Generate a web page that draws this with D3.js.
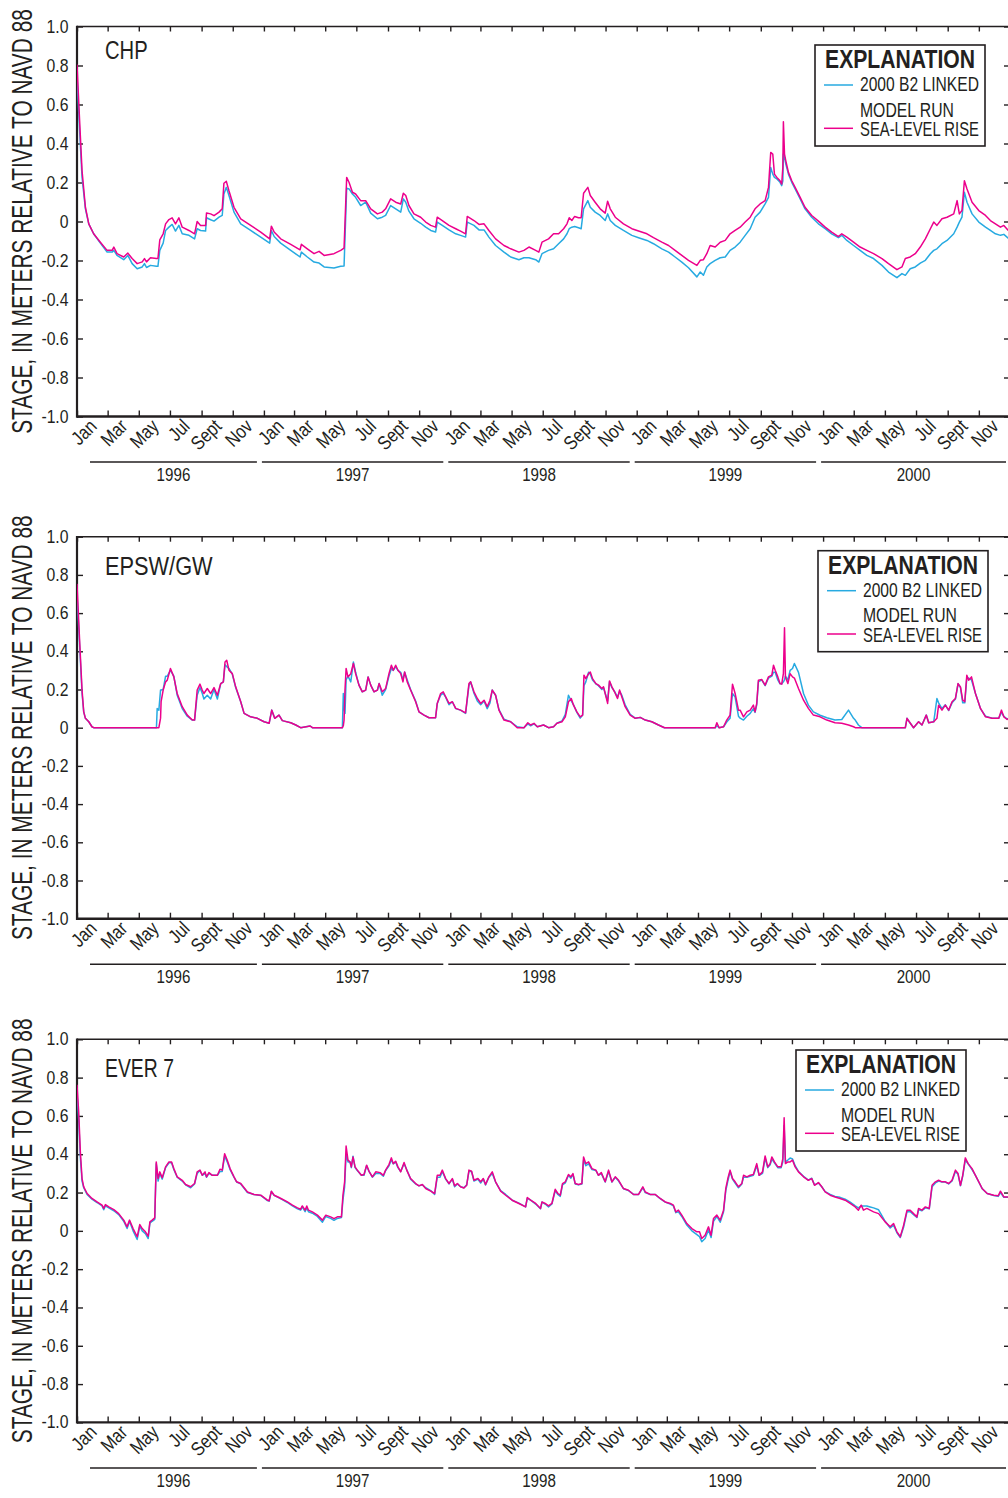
<!DOCTYPE html>
<html>
<head>
<meta charset="utf-8">
<script src="https://cdn.jsdelivr.net/npm/d3@7"></script>
<style>
  body { margin: 0; background: #fff; }
  svg { display: block; font-family: "Liberation Sans", Arial, sans-serif; }
</style>
</head>
<body>
<svg id="chart" width="1008" height="1498"></svg>
<script>
// ---- Stage series, decimal year -> meters relative to NAVD 88 ----

// CHP
const chpT = [1996.000,1996.014,1996.027,1996.045,1996.063,1996.089,1996.125,1996.161,1996.188,1996.197,1996.214,1996.250,1996.272,1996.295,1996.322,1996.349,1996.361,1996.372,1996.393,1996.425,1996.433,1996.443,1996.461,1996.474,1996.492,1996.509,1996.527,1996.545,1996.563,1996.599,1996.629,1996.643,1996.661,1996.688,1996.693,1996.715,1996.733,1996.760,1996.777,1996.786,1996.799,1996.813,1996.840,1996.876,1996.929,1996.983,1997.031,1997.040,1997.055,1997.090,1997.144,1997.194,1997.201,1997.233,1997.269,1997.296,1997.323,1997.376,1997.412,1997.430,1997.444,1997.457,1997.475,1997.492,1997.519,1997.546,1997.573,1997.609,1997.635,1997.653,1997.680,1997.707,1997.734,1997.748,1997.761,1997.778,1997.805,1997.841,1997.868,1997.895,1997.921,1997.930,1997.957,1997.993,1998.029,1998.055,1998.082,1998.091,1998.127,1998.154,1998.181,1998.207,1998.243,1998.288,1998.324,1998.368,1998.395,1998.422,1998.458,1998.475,1998.492,1998.527,1998.554,1998.581,1998.608,1998.626,1998.638,1998.652,1998.667,1998.688,1998.702,1998.715,1998.738,1998.751,1998.777,1998.804,1998.831,1998.844,1998.858,1998.885,1998.929,1998.974,1999.010,1999.055,1999.090,1999.135,1999.171,1999.206,1999.242,1999.278,1999.323,1999.341,1999.358,1999.376,1999.394,1999.421,1999.448,1999.475,1999.501,1999.528,1999.555,1999.582,1999.609,1999.635,1999.662,1999.689,1999.707,1999.719,1999.730,1999.739,1999.752,1999.769,1999.778,1999.784,1999.787,1999.793,1999.800,1999.814,1999.832,1999.850,1999.877,1999.903,1999.939,1999.975,2000.011,2000.046,2000.082,2000.100,2000.127,2000.163,2000.198,2000.234,2000.270,2000.315,2000.350,2000.395,2000.422,2000.440,2000.466,2000.493,2000.520,2000.547,2000.574,2000.592,2000.609,2000.636,2000.663,2000.699,2000.717,2000.729,2000.743,2000.756,2000.770,2000.797,2000.833,2000.869,2000.895,2000.922,2000.949,2000.967,2000.994];
const chpSlr = [0.805,0.516,0.26,0.073,-0.012,-0.063,-0.106,-0.148,-0.148,-0.131,-0.165,-0.182,-0.162,-0.19,-0.216,-0.207,-0.19,-0.207,-0.186,-0.19,-0.19,-0.094,-0.063,-0.012,0.01,0.019,-0.012,0.019,-0.029,-0.046,-0.063,0.0,-0.02,-0.02,0.044,0.039,0.03,0.048,0.065,0.196,0.206,0.158,0.073,0.014,-0.02,-0.054,-0.089,-0.024,-0.054,-0.089,-0.117,-0.145,-0.117,-0.14,-0.165,-0.153,-0.174,-0.165,-0.148,-0.136,0.226,0.2,0.15,0.141,0.107,0.107,0.065,0.039,0.048,0.065,0.116,0.099,0.09,0.145,0.133,0.082,0.039,0.022,-0.003,-0.02,-0.029,0.022,0.005,-0.02,-0.037,-0.049,-0.063,0.026,0.005,-0.015,-0.012,-0.046,-0.089,-0.123,-0.14,-0.157,-0.148,-0.131,-0.148,-0.157,-0.106,-0.089,-0.063,-0.063,-0.037,-0.012,0.019,0.005,0.026,0.019,0.019,0.145,0.175,0.133,0.099,0.065,0.043,0.104,0.065,0.022,-0.012,-0.037,-0.049,-0.063,-0.083,-0.106,-0.123,-0.148,-0.174,-0.199,-0.225,-0.199,-0.196,-0.165,-0.123,-0.131,-0.106,-0.097,-0.063,-0.046,-0.029,-0.003,0.022,0.065,0.09,0.107,0.175,0.354,0.346,0.243,0.226,0.209,0.192,0.277,0.512,0.346,0.311,0.252,0.209,0.175,0.124,0.073,0.031,0.002,-0.029,-0.054,-0.077,-0.063,-0.08,-0.106,-0.131,-0.148,-0.165,-0.19,-0.216,-0.247,-0.233,-0.19,-0.182,-0.165,-0.131,-0.089,-0.037,-0.003,-0.02,0.014,0.022,0.039,0.107,0.039,0.056,0.209,0.167,0.099,0.056,0.031,0.005,-0.012,-0.029,-0.02,-0.049];
const chpBase = [0.745,0.465,0.226,0.065,-0.012,-0.063,-0.111,-0.157,-0.157,-0.148,-0.174,-0.196,-0.174,-0.216,-0.242,-0.233,-0.216,-0.236,-0.225,-0.23,-0.23,-0.148,-0.111,-0.046,-0.029,-0.015,-0.049,-0.02,-0.063,-0.071,-0.089,-0.037,-0.046,-0.049,0.019,0.009,0.002,0.022,0.031,0.141,0.175,0.133,0.048,-0.012,-0.046,-0.08,-0.111,-0.046,-0.077,-0.111,-0.148,-0.182,-0.157,-0.182,-0.208,-0.213,-0.233,-0.238,-0.23,-0.228,0.17,0.167,0.141,0.124,0.082,0.099,0.043,0.014,0.022,0.031,0.082,0.065,0.048,0.116,0.099,0.053,0.014,-0.009,-0.029,-0.046,-0.054,-0.003,-0.02,-0.043,-0.063,-0.071,-0.08,-0.003,-0.02,-0.043,-0.043,-0.08,-0.123,-0.157,-0.182,-0.196,-0.186,-0.186,-0.196,-0.208,-0.165,-0.148,-0.14,-0.114,-0.089,-0.063,-0.037,-0.029,-0.026,-0.032,-0.037,0.065,0.107,0.073,0.048,0.031,0.005,0.039,0.005,-0.02,-0.046,-0.071,-0.083,-0.097,-0.114,-0.14,-0.157,-0.182,-0.208,-0.237,-0.284,-0.259,-0.276,-0.233,-0.216,-0.199,-0.186,-0.182,-0.148,-0.131,-0.106,-0.071,-0.037,0.022,0.048,0.09,0.124,0.277,0.243,0.226,0.218,0.201,0.184,0.209,0.346,0.328,0.294,0.243,0.201,0.167,0.116,0.065,0.022,-0.012,-0.037,-0.063,-0.083,-0.071,-0.097,-0.123,-0.148,-0.174,-0.19,-0.225,-0.259,-0.288,-0.267,-0.276,-0.242,-0.233,-0.213,-0.199,-0.165,-0.148,-0.14,-0.114,-0.097,-0.063,-0.029,-0.003,0.022,0.15,0.099,0.039,-0.003,-0.029,-0.046,-0.063,-0.071,-0.066,-0.089];

// EPSW/GW
const epswT = [1996.000,1996.014,1996.027,1996.036,1996.045,1996.063,1996.080,1996.089,1996.425,1996.429,1996.438,1996.447,1996.450,1996.461,1996.474,1996.483,1996.500,1996.518,1996.536,1996.563,1996.590,1996.617,1996.629,1996.643,1996.658,1996.670,1996.679,1996.697,1996.715,1996.733,1996.751,1996.769,1996.783,1996.792,1996.801,1996.813,1996.831,1996.849,1996.876,1996.894,1996.929,1996.965,1997.001,1997.028,1997.042,1997.058,1997.081,1997.099,1997.144,1997.171,1997.197,1997.248,1997.260,1997.421,1997.426,1997.430,1997.435,1997.441,1997.451,1997.466,1997.480,1997.492,1997.510,1997.528,1997.546,1997.559,1997.573,1997.591,1997.609,1997.618,1997.635,1997.653,1997.671,1997.684,1997.694,1997.707,1997.719,1997.734,1997.746,1997.755,1997.769,1997.787,1997.814,1997.832,1997.859,1997.886,1997.921,1997.930,1997.948,1997.962,1997.975,1997.993,1998.011,1998.029,1998.055,1998.082,1998.100,1998.109,1998.127,1998.145,1998.163,1998.181,1998.198,1998.213,1998.225,1998.243,1998.261,1998.288,1998.324,1998.359,1998.395,1998.416,1998.431,1998.449,1998.467,1998.500,1998.527,1998.554,1998.572,1998.599,1998.617,1998.634,1998.649,1998.661,1998.679,1998.697,1998.710,1998.717,1998.727,1998.742,1998.751,1998.763,1998.781,1998.795,1998.813,1998.822,1998.831,1998.844,1998.854,1998.867,1998.881,1998.897,1998.908,1998.920,1998.938,1998.965,1998.992,1999.019,1999.046,1999.081,1999.117,1999.149,1999.421,1999.430,1999.442,1999.466,1999.483,1999.501,1999.514,1999.528,1999.546,1999.555,1999.573,1999.591,1999.609,1999.626,1999.635,1999.644,1999.653,1999.671,1999.689,1999.707,1999.725,1999.734,1999.743,1999.757,1999.769,1999.778,1999.787,1999.793,1999.798,1999.811,1999.823,1999.836,1999.846,1999.868,1999.895,1999.921,1999.948,1999.984,2000.020,2000.064,2000.100,2000.136,2000.163,2000.172,2000.189,2000.207,2000.440,2000.449,2000.461,2000.484,2000.511,2000.529,2000.552,2000.565,2000.592,2000.609,2000.618,2000.636,2000.654,2000.672,2000.690,2000.708,2000.722,2000.735,2000.747,2000.758,2000.769,2000.779,2000.794,2000.815,2000.842,2000.869,2000.904,2000.940,2000.954,2000.967,2000.985,2000.994];
const epswSlr = [0.753,0.457,0.197,0.083,0.049,0.031,0.005,0,0,0,0,0.05,0.136,0.197,0.24,0.249,0.31,0.266,0.179,0.11,0.066,0.04,0.04,0.197,0.228,0.197,0.179,0.205,0.179,0.21,0.17,0.231,0.24,0.344,0.353,0.301,0.283,0.214,0.136,0.075,0.057,0.049,0.031,0.023,0.092,0.049,0.066,0.037,0.026,0.014,0,0.009,0,0,0.01,0.04,0.197,0.31,0.266,0.283,0.336,0.283,0.223,0.188,0.197,0.266,0.223,0.188,0.197,0.231,0.188,0.205,0.283,0.327,0.301,0.327,0.301,0.283,0.24,0.292,0.24,0.197,0.136,0.083,0.066,0.052,0.052,0.127,0.179,0.188,0.162,0.127,0.136,0.101,0.092,0.078,0.231,0.24,0.188,0.153,0.127,0.144,0.11,0.144,0.197,0.17,0.092,0.04,0.031,0,0,0.026,0.014,0.023,0.005,0.014,0,0.005,0.023,0.031,0.057,0.136,0.153,0.118,0.083,0.057,0.066,0.275,0.257,0.283,0.292,0.257,0.231,0.223,0.205,0.214,0.179,0.127,0.245,0.214,0.188,0.153,0.197,0.162,0.11,0.066,0.049,0.054,0.04,0.031,0.014,0,0,0.026,0,0.005,0.04,0.066,0.228,0.179,0.092,0.092,0.057,0.083,0.092,0.118,0.083,0.127,0.249,0.252,0.223,0.266,0.275,0.327,0.301,0.266,0.231,0.228,0.283,0.523,0.266,0.231,0.283,0.266,0.26,0.205,0.144,0.101,0.066,0.057,0.04,0.026,0.023,0.014,0.005,0,0,0,0,0.049,0.031,0,0.031,0.014,0.066,0.026,0.031,0.049,0.118,0.092,0.118,0.092,0.136,0.153,0.231,0.214,0.144,0.136,0.275,0.249,0.266,0.179,0.101,0.057,0.049,0.049,0.092,0.057,0.043,0.049];
const epswBase = [0.70,0.43,0.18,0.083,0.049,0.031,0.005,0,0,0.1,0.092,0.197,0.197,0.2,0.27,0.27,0.3,0.27,0.17,0.10,0.06,0.04,0.04,0.17,0.21,0.18,0.15,0.17,0.15,0.2,0.15,0.231,0.24,0.33,0.32,0.31,0.28,0.21,0.136,0.075,0.057,0.049,0.031,0.023,0.092,0.049,0.066,0.037,0.026,0.014,0,0.009,0,0,0.179,0.10,0.075,0.25,0.27,0.24,0.344,0.29,0.223,0.188,0.197,0.266,0.223,0.188,0.197,0.231,0.17,0.2,0.27,0.31,0.30,0.32,0.30,0.29,0.25,0.29,0.25,0.2,0.14,0.083,0.066,0.052,0.052,0.127,0.17,0.18,0.16,0.12,0.136,0.10,0.092,0.075,0.22,0.24,0.18,0.14,0.12,0.14,0.10,0.13,0.197,0.17,0.095,0.045,0.031,0.005,0,0.02,0.01,0.02,0.005,0.014,0,0.005,0.023,0.035,0.07,0.17,0.14,0.12,0.08,0.05,0.066,0.22,0.24,0.29,0.28,0.25,0.23,0.22,0.20,0.21,0.18,0.14,0.24,0.21,0.19,0.16,0.19,0.17,0.12,0.07,0.05,0.054,0.04,0.031,0.014,0,0,0.01,0,0.005,0.03,0.05,0.179,0.16,0.06,0.05,0.04,0.06,0.075,0.10,0.08,0.12,0.24,0.25,0.22,0.26,0.27,0.29,0.29,0.25,0.23,0.23,0.24,0.25,0.27,0.25,0.30,0.31,0.336,0.29,0.179,0.118,0.083,0.065,0.052,0.04,0.043,0.092,0.049,0.04,0.014,0,0,0.049,0.031,0,0.031,0.014,0.066,0.026,0.031,0.153,0.13,0.10,0.12,0.09,0.13,0.15,0.23,0.21,0.13,0.13,0.26,0.26,0.25,0.18,0.10,0.06,0.05,0.05,0.08,0.06,0.045,0.05];

// EVER 7
const everT = [1996.000,1996.009,1996.018,1996.027,1996.036,1996.054,1996.080,1996.107,1996.134,1996.143,1996.152,1996.170,1996.197,1996.223,1996.250,1996.268,1996.281,1996.300,1996.322,1996.336,1996.349,1996.366,1996.381,1996.390,1996.402,1996.416,1996.424,1996.434,1996.443,1996.456,1996.474,1996.492,1996.506,1996.518,1996.536,1996.563,1996.581,1996.608,1996.629,1996.643,1996.658,1996.670,1996.685,1996.693,1996.706,1996.724,1996.751,1996.765,1996.777,1996.790,1996.804,1996.819,1996.840,1996.854,1996.876,1996.912,1996.947,1996.983,1997.019,1997.028,1997.040,1997.055,1997.081,1997.099,1997.126,1997.153,1997.180,1997.197,1997.206,1997.221,1997.230,1997.239,1997.260,1997.287,1997.314,1997.332,1997.358,1997.376,1997.394,1997.416,1997.424,1997.433,1997.441,1997.451,1997.462,1997.469,1997.478,1997.489,1997.501,1997.523,1997.537,1997.551,1997.564,1997.582,1997.600,1997.623,1997.641,1997.653,1997.671,1997.684,1997.694,1997.707,1997.719,1997.734,1997.752,1997.766,1997.787,1997.814,1997.832,1997.850,1997.868,1997.895,1997.916,1997.930,1997.945,1997.957,1997.975,1997.993,1998.011,1998.023,1998.038,1998.055,1998.073,1998.088,1998.100,1998.114,1998.127,1998.148,1998.163,1998.177,1998.189,1998.207,1998.225,1998.243,1998.270,1998.297,1998.332,1998.368,1998.404,1998.413,1998.431,1998.458,1998.484,1998.492,1998.509,1998.527,1998.545,1998.563,1998.577,1998.590,1998.602,1998.617,1998.634,1998.647,1998.658,1998.670,1998.688,1998.706,1998.715,1998.727,1998.742,1998.760,1998.781,1998.795,1998.810,1998.831,1998.849,1998.867,1998.885,1998.903,1998.929,1998.956,1998.983,1999.010,1999.033,1999.046,1999.072,1999.099,1999.126,1999.153,1999.180,1999.197,1999.210,1999.224,1999.242,1999.269,1999.296,1999.323,1999.337,1999.349,1999.367,1999.385,1999.399,1999.412,1999.430,1999.448,1999.466,1999.478,1999.489,1999.501,1999.514,1999.528,1999.546,1999.564,1999.573,1999.591,1999.609,1999.626,1999.644,1999.657,1999.675,1999.689,1999.703,1999.716,1999.725,1999.739,1999.757,1999.775,1999.784,1999.791,1999.798,1999.811,1999.823,1999.836,1999.850,1999.868,1999.895,1999.921,1999.939,1999.954,1999.975,1999.993,2000.011,2000.038,2000.064,2000.091,2000.118,2000.145,2000.172,2000.189,2000.204,2000.216,2000.234,2000.252,2000.270,2000.297,2000.332,2000.359,2000.377,2000.395,2000.413,2000.431,2000.449,2000.466,2000.484,2000.502,2000.511,2000.529,2000.547,2000.568,2000.583,2000.601,2000.618,2000.636,2000.654,2000.672,2000.690,2000.708,2000.722,2000.735,2000.747,2000.761,2000.776,2000.797,2000.815,2000.833,2000.851,2000.878,2000.913,2000.937,2000.949,2000.967,2000.994];
const everSlr = [0.763,0.621,0.412,0.273,0.23,0.195,0.169,0.151,0.134,0.117,0.137,0.125,0.111,0.09,0.056,0.021,0.056,0.012,-0.031,0.033,0.012,-0.005,-0.028,0.047,0.056,0.068,0.36,0.273,0.308,0.277,0.334,0.36,0.36,0.325,0.282,0.264,0.242,0.23,0.247,0.308,0.317,0.29,0.308,0.282,0.304,0.29,0.29,0.322,0.317,0.403,0.369,0.325,0.282,0.256,0.247,0.203,0.19,0.186,0.16,0.157,0.207,0.186,0.174,0.165,0.151,0.134,0.12,0.113,0.13,0.108,0.13,0.108,0.099,0.082,0.056,0.082,0.073,0.064,0.073,0.073,0.186,0.256,0.443,0.369,0.36,0.334,0.386,0.334,0.317,0.29,0.294,0.343,0.311,0.282,0.308,0.304,0.29,0.317,0.346,0.381,0.351,0.363,0.334,0.308,0.357,0.317,0.273,0.247,0.235,0.242,0.221,0.207,0.195,0.29,0.29,0.317,0.273,0.247,0.273,0.235,0.247,0.23,0.224,0.238,0.317,0.311,0.264,0.273,0.256,0.273,0.242,0.282,0.308,0.256,0.207,0.186,0.16,0.143,0.125,0.174,0.16,0.143,0.117,0.151,0.143,0.13,0.143,0.217,0.195,0.186,0.247,0.256,0.294,0.282,0.299,0.247,0.242,0.247,0.386,0.351,0.36,0.325,0.317,0.29,0.304,0.256,0.317,0.256,0.282,0.264,0.221,0.212,0.19,0.19,0.23,0.203,0.19,0.19,0.169,0.151,0.143,0.134,0.099,0.108,0.082,0.038,0.012,-0.005,-0.005,-0.04,-0.023,0.021,-0.023,0.064,0.082,0.056,0.108,0.221,0.273,0.317,0.273,0.256,0.23,0.247,0.29,0.282,0.29,0.294,0.351,0.29,0.308,0.391,0.334,0.351,0.386,0.36,0.334,0.334,0.377,0.59,0.351,0.36,0.36,0.369,0.334,0.308,0.282,0.264,0.273,0.238,0.252,0.23,0.203,0.186,0.177,0.169,0.16,0.143,0.125,0.108,0.134,0.108,0.117,0.108,0.099,0.09,0.047,0.021,0.038,-0.005,-0.031,0.03,0.108,0.108,0.09,0.073,0.117,0.108,0.125,0.117,0.238,0.256,0.264,0.256,0.256,0.247,0.264,0.317,0.299,0.238,0.29,0.381,0.351,0.325,0.29,0.256,0.221,0.195,0.186,0.183,0.207,0.177,0.177];
const everBase = [0.72,0.58,0.38,0.26,0.225,0.19,0.165,0.148,0.13,0.11,0.13,0.12,0.105,0.085,0.05,0.012,0.05,0.0,-0.045,0.025,0.0,-0.015,-0.04,0.04,0.05,0.06,0.35,0.26,0.30,0.27,0.33,0.355,0.355,0.32,0.28,0.26,0.24,0.225,0.245,0.30,0.315,0.29,0.30,0.28,0.30,0.29,0.29,0.31,0.31,0.39,0.36,0.32,0.28,0.255,0.245,0.2,0.19,0.185,0.158,0.155,0.205,0.185,0.172,0.163,0.148,0.13,0.115,0.108,0.125,0.1,0.12,0.1,0.092,0.075,0.045,0.075,0.065,0.055,0.065,0.07,0.16,0.23,0.40,0.36,0.36,0.33,0.39,0.33,0.315,0.29,0.29,0.34,0.31,0.28,0.30,0.30,0.285,0.315,0.34,0.37,0.35,0.36,0.33,0.31,0.35,0.32,0.27,0.245,0.235,0.24,0.225,0.21,0.19,0.28,0.28,0.31,0.27,0.245,0.27,0.23,0.245,0.23,0.225,0.24,0.31,0.31,0.26,0.27,0.25,0.27,0.24,0.28,0.30,0.255,0.21,0.19,0.16,0.145,0.125,0.17,0.16,0.14,0.115,0.15,0.14,0.125,0.14,0.21,0.19,0.18,0.24,0.25,0.29,0.275,0.295,0.245,0.24,0.245,0.37,0.34,0.35,0.32,0.315,0.29,0.30,0.255,0.31,0.255,0.28,0.26,0.22,0.21,0.19,0.19,0.225,0.2,0.19,0.19,0.168,0.15,0.14,0.13,0.095,0.10,0.075,0.03,0.0,-0.02,-0.03,-0.057,-0.04,0.005,-0.035,0.05,0.075,0.045,0.10,0.21,0.26,0.31,0.27,0.25,0.225,0.245,0.28,0.28,0.285,0.29,0.34,0.29,0.30,0.38,0.33,0.345,0.375,0.355,0.33,0.33,0.36,0.55,0.36,0.37,0.38,0.375,0.34,0.31,0.285,0.265,0.275,0.24,0.25,0.23,0.205,0.19,0.18,0.175,0.165,0.15,0.13,0.12,0.13,0.13,0.13,0.125,0.12,0.11,0.05,0.015,0.03,-0.01,-0.035,0.02,0.10,0.10,0.085,0.07,0.11,0.105,0.12,0.115,0.23,0.25,0.26,0.255,0.255,0.245,0.26,0.31,0.295,0.235,0.285,0.37,0.35,0.32,0.29,0.255,0.22,0.195,0.185,0.18,0.2,0.175,0.175];

// ---- Labels ----
const panelNames = ["CHP", "EPSW/GW", "EVER 7"];
const yTickValues = [1.0, 0.8, 0.6, 0.4, 0.2, 0, -0.2, -0.4, -0.6, -0.8, -1.0];
const yTickLabels = ["1.0", "0.8", "0.6", "0.4", "0.2", "0", "-0.2", "-0.4", "-0.6", "-0.8", "-1.0"];
const monthLabels = ["Jan", "Mar", "May", "Jul", "Sept", "Nov"];
const yearLabels = ["1996", "1997", "1998", "1999", "2000"];
const yTitle = "STAGE, IN METERS RELATIVE TO NAVD 88";
const legendTitle = "EXPLANATION";
const legendLines = ["2000 B2 LINKED", "MODEL RUN", "SEA-LEVEL RISE"];

// ---- Styling / layout ----
const ink = "#231f20";
const blue = "#27aae1";
const pink = "#ec008c";
const plotLeft = 77, plotRight = 1010;
const layout = [
  { top: 26.5,   bottom: 416.5,  legendX: 815, legendY: 45 },
  { top: 536.7,  bottom: 918.7,  legendX: 818, legendY: 550.7 },
  { top: 1039.3, bottom: 1422.4, legendX: 796, legendY: 1050 }
];
const nameWidths = [42.7, 107.7, 69];
const nameBaselines = [32.5, 38.3, 37.7];
const series = [
  { t: chpT,  base: chpBase,  slr: chpSlr },
  { t: epswT, base: epswBase, slr: epswSlr },
  { t: everT, base: everBase, slr: everSlr }
];

function toDate(t) {
  const y = Math.floor(t);
  const a = Date.UTC(y, 0, 1), b = Date.UTC(y + 1, 0, 1);
  return new Date(a + (t - y) * (b - a));
}

const svg = d3.select("#chart");
const x = d3.scaleUtc()
  .domain([new Date(Date.UTC(1996, 0, 1)), new Date(Date.UTC(2001, 0, 1))])
  .range([plotLeft, plotRight]);
const monthTicks = d3.utcMonth.every(2).range(new Date(Date.UTC(1996, 0, 1)), new Date(Date.UTC(2001, 0, 1)));

// Text in a narrow face: either a fixed horizontal squeeze (sx) or fitted to a target width.
function label(parent, o) {
  const t = parent.append("text")
    .attr("text-anchor", o.anchor || "start")
    .attr("font-size", o.size)
    .attr("font-weight", o.weight || "normal")
    .attr("fill", ink)
    .text(o.text);
  let sx = o.sx || 1;
  if (o.width) sx = o.width / t.node().getComputedTextLength();
  t.attr("transform", `translate(${o.x},${o.y}) rotate(${o.rotate || 0}) scale(${sx},1)`);
  return t;
}

layout.forEach((L, i) => {
  const S = series[i];
  const g = svg.append("g");
  const y = d3.scaleLinear().domain([-1, 1]).range([L.bottom, L.top]);

  // tick marks on all four sides, pointing inward
  const tickStyle = sel => { sel.select(".domain").remove(); sel.selectAll("line").attr("stroke", ink).attr("stroke-width", 1.4); sel.selectAll("text").remove(); };
  g.append("g").attr("transform", `translate(0,${L.top})`)
    .call(d3.axisBottom(x).tickValues(monthTicks).tickSize(5).tickSizeOuter(0).tickFormat("")).call(tickStyle);
  g.append("g").attr("transform", `translate(0,${L.bottom})`)
    .call(d3.axisTop(x).tickValues(monthTicks).tickSize(6).tickSizeOuter(0).tickFormat("")).call(tickStyle);
  g.append("g").attr("transform", `translate(${plotLeft},0)`)
    .call(d3.axisRight(y).tickValues(yTickValues).tickSize(6).tickSizeOuter(0).tickFormat("")).call(tickStyle);
  g.append("g").attr("transform", `translate(${plotRight},0)`)
    .call(d3.axisLeft(y).tickValues(yTickValues).tickSize(6).tickSizeOuter(0).tickFormat("")).call(tickStyle);

  // frame
  g.append("line").attr("x1", plotLeft).attr("x2", plotRight).attr("y1", L.top).attr("y2", L.top).attr("stroke", ink).attr("stroke-width", 1.6);
  g.append("line").attr("x1", plotLeft).attr("x2", plotRight).attr("y1", L.bottom).attr("y2", L.bottom).attr("stroke", ink).attr("stroke-width", 2.4);
  g.append("line").attr("x1", plotLeft).attr("x2", plotLeft).attr("y1", L.top - 0.8).attr("y2", L.bottom + 1.2).attr("stroke", ink).attr("stroke-width", 2.2);
  g.append("line").attr("x1", plotRight).attr("x2", plotRight).attr("y1", L.top).attr("y2", L.bottom).attr("stroke", ink).attr("stroke-width", 1.6);

  // y tick labels
  yTickValues.forEach((v, k) => {
    label(g, { x: 68.5, y: y(v) + 6, text: yTickLabels[k], size: 17.5, sx: 0.9, anchor: "end" });
  });

  // rotated month labels
  monthTicks.forEach(d => {
    label(g, { x: x(d) + 21, y: L.bottom + 11, text: monthLabels[d.getUTCMonth() / 2], size: 19.5, sx: 0.84, anchor: "end", rotate: -45 });
  });

  // year groups: rule + centered year
  yearLabels.forEach((yr, k) => {
    const y0 = +yr;
    let xa = x(new Date(Date.UTC(y0, 0, 1))) - 2;
    let xb = x(new Date(Date.UTC(y0 + 1, 0, 1))) - 7;
    if (k === 0) xa = plotLeft + 13;
    if (k === yearLabels.length - 1) xb = 1006;
    g.append("line").attr("x1", xa).attr("x2", xb).attr("y1", L.bottom + 45.5).attr("y2", L.bottom + 45.5)
      .attr("stroke", ink).attr("stroke-width", 1.5);
    label(g, { x: (xa + xb) / 2, y: L.bottom + 64.5, text: yr, size: 18.5, sx: 0.82, anchor: "middle" });
  });

  // y-axis title
  label(g, { x: 32, y: (L.top + L.bottom) / 2, text: yTitle, size: 29, anchor: "middle", rotate: -90, width: 425 });

  // panel name
  label(g, { x: 105, y: L.top + nameBaselines[i], text: panelNames[i], size: 26, width: nameWidths[i] });

  // series lines
  const pts = S.t.map((t, k) => ({ d: toDate(t), b: S.base[k], s: S.slr[k] }));
  const clipId = `clip${i}`;
  svg.append("clipPath").attr("id", clipId).append("rect")
    .attr("x", plotLeft).attr("y", L.top).attr("width", plotRight - plotLeft).attr("height", L.bottom - L.top);
  const lines = g.append("g").attr("clip-path", `url(#${clipId})`);
  lines.append("path").datum(pts)
    .attr("d", d3.line().x(p => x(p.d)).y(p => y(p.b)))
    .attr("fill", "none").attr("stroke", blue).attr("stroke-width", 1.5).attr("stroke-linejoin", "round");
  lines.append("path").datum(pts)
    .attr("d", d3.line().x(p => x(p.d)).y(p => y(p.s)))
    .attr("fill", "none").attr("stroke", pink).attr("stroke-width", 1.5).attr("stroke-linejoin", "round");

  // legend
  const lg = g.append("g").attr("transform", `translate(${L.legendX},${L.legendY})`);
  lg.append("rect").attr("width", 170).attr("height", 101).attr("fill", "#fff").attr("stroke", ink).attr("stroke-width", 1.6);
  label(lg, { x: 85, y: 23, text: legendTitle, size: 25, weight: "bold", anchor: "middle", width: 150 });
  lg.append("line").attr("x1", 9).attr("x2", 38).attr("y1", 40).attr("y2", 40).attr("stroke", blue).attr("stroke-width", 1.5);
  lg.append("line").attr("x1", 9).attr("x2", 38).attr("y1", 83.3).attr("y2", 83.3).attr("stroke", pink).attr("stroke-width", 1.5);
  label(lg, { x: 45, y: 46, text: legendLines[0], size: 20, width: 119 });
  label(lg, { x: 45, y: 71.5, text: legendLines[1], size: 20, width: 94 });
  label(lg, { x: 45, y: 91, text: legendLines[2], size: 20, width: 119 });
});
</script>
</body>
</html>
